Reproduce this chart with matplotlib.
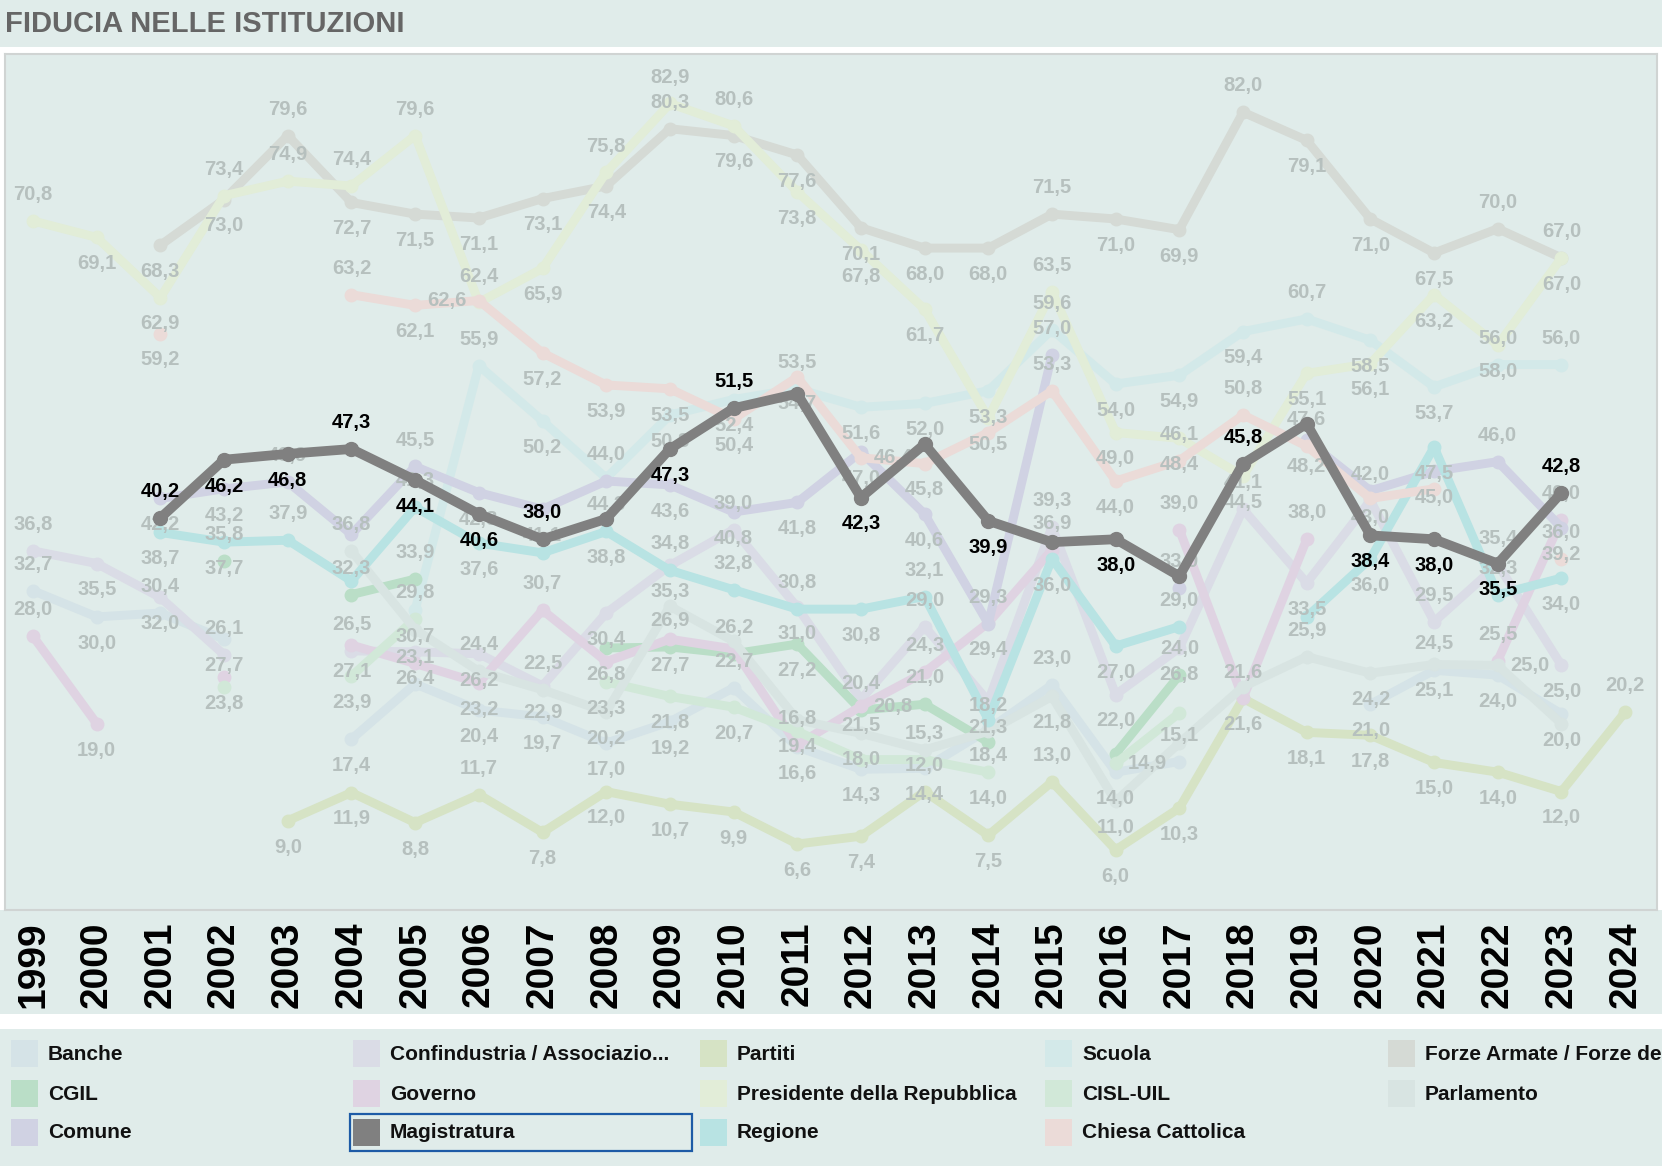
import matplotlib
matplotlib.use("Agg")
import numpy as np
import matplotlib.pyplot as plt
from matplotlib.patches import Rectangle

plt.rcParams['font.family'] = ['Liberation Sans', 'DejaVu Sans']

N = np.nan
years = list(range(1999, 2025))

# fiducia (%) per istituzione
banche = [32.7, 30.0, 30.4, 27.7, N, 17.4, 23.1, 20.4, 19.7, 17.0, 19.2, 22.7, 16.6, 14.3,
          14.4, 18.4, 23.0, 14.0, 15.1, N, N, 21.0, 24.5, 24.0, 20.0, N]
confindustria = [36.8, 35.5, 32.0, 26.1, N, 26.5, 26.4, 26.2, 22.9, 30.4, 35.3, 39.0, 31.0, 21.5,
                 29.0, 21.3, 39.3, 22.0, 26.8, 41.1, 33.5, 42.0, 29.5, 35.4, 25.0, N]
partiti = [N, N, N, N, 9.0, 11.9, 8.8, 11.7, 7.8, 12.0, 10.7, 9.9, 6.6, 7.4,
           12.0, 7.5, 13.0, 6.0, 10.3, 21.6, 18.1, 17.8, 15.0, 14.0, 12.0, 20.2]
scuola = [N, N, N, N, N, N, 30.7, 55.9, 50.2, 44.3, 50.8, 52.4, 53.5, 51.6,
          52.0, 53.3, 59.6, 54.0, 54.9, 59.4, 60.7, 58.5, 53.7, 56.0, 56.0, N]
forze = [N, N, 68.3, 73.0, 79.6, 72.7, 71.5, 71.1, 73.1, 74.4, 80.3, 79.6, 77.6, 70.1,
         68.0, 68.0, 71.5, 71.0, 69.9, 82.0, 79.1, 71.0, 67.5, 70.0, 67.0, N]
cgil = [N, N, N, 35.8, N, 32.3, 33.9, N, N, 26.8, 26.9, 26.2, 27.2, 20.4,
        21.0, 17.1, N, 15.9, 24.0, N, N, N, N, N, N, N]
governo = [28.0, 19.0, N, 23.8, N, 27.1, 25.2, 23.2, 30.7, 25.4, 27.7, 26.7, 16.8, 20.8,
           24.3, 29.4, 36.9, N, 39.0, 21.6, 38.0, N, N, 25.5, 40.0, N]
presidente = [70.8, 69.1, 62.9, 73.4, 74.9, 74.4, 79.6, 62.4, 65.9, 75.8, 82.9, 80.6, 73.8, 67.8,
              61.7, 50.5, 63.5, 49.0, 48.4, 44.5, 55.1, 56.1, 63.2, 58.0, 67.0, N]
cisl_uil = [N, N, N, 22.8, N, 23.9, 29.8, N, N, 23.3, 21.8, 20.7, 18.2, 15.3,
            15.3, 14.0, N, 14.9, 20.1, N, N, N, N, N, N, N]
parlamento = [N, N, N, N, N, 36.8, 28.7, 24.4, 22.5, 20.2, 31.1, 27.5, 19.4, 18.0,
              16.3, 18.2, 21.8, 11.0, 17.0, 22.8, 25.9, 24.2, 25.1, 25.0, 19.0, N]
comune = [N, N, 42.2, 43.2, 43.9, 38.5, 45.5, 42.8, 41.1, 44.0, 43.6, 40.8, 41.8, 47.0,
          40.6, 29.3, 57.0, N, 33.0, N, 48.2, 43.0, 45.0, 46.0, 39.2, N]
magistratura = [N, N, 40.2, 46.2, 46.8, 47.3, 44.1, 40.6, 38.0, 40.1, 47.3, 51.5, 53.0, 42.3,
                47.8, 39.9, 37.7, 38.0, 34.2, 45.8, 49.9, 38.4, 38.0, 35.5, 42.8, N]
regione = [N, N, 38.7, 37.7, 37.9, 33.7, 41.3, 37.6, 36.6, 38.8, 34.8, 32.8, 30.8, 30.8,
           32.1, 19.4, 36.0, 27.0, 29.0, N, 30.0, 36.0, 47.5, 32.3, 34.0, N]
chiesa = [N, N, 59.2, N, N, 63.2, 62.1, 62.6, 57.2, 53.9, 53.5, 50.4, 54.7, 46.4,
          45.8, 49.0, 53.3, 44.0, 46.1, 50.8, 47.6, 42.2, 43.2, N, 36.0, N]

names = ["Banche", "Confindustria / Associazio...", "Partiti", "Scuola",
         "Forze Armate / Forze dell'Ordine", "CGIL", "Governo", "Presidente della Repubblica",
         "CISL-UIL", "Parlamento", "Comune", "Magistratura", "Regione", "Chiesa Cattolica"]
series = [banche, confindustria, partiti, scuola, forze, cgil, governo, presidente,
          cisl_uil, parlamento, comune, magistratura, regione, chiesa]
colors = ["#d5e3e7", "#dadce6", "#d6e3c5", "#d3e9e9", "#d5dad5", "#badec7", "#dfd3e2",
          "#e2edd8", "#d1e8d8", "#d8e4e2", "#d0d2e3", "#808080", "#b8e3e3", "#ebdbd8"]
highlight = "Magistratura"

W, H = 1662, 1166
fig = plt.figure(figsize=(W / 100, H / 100), dpi=100)
fig.patch.set_facecolor("white")
panel = "#e0ecea"


def frect(x0, y0, x1, y1, **kw):
    # rectangle in pixel coordinates measured from the top-left corner
    r = Rectangle((x0 / W, 1 - y1 / H), (x1 - x0) / W, (y1 - y0) / H,
                  transform=fig.transFigure, **kw)
    fig.add_artist(r)
    return r


frect(0, 0, W, 47, facecolor=panel, edgecolor="none", zorder=0)
fig.text(5 / W, 1 - 24 / H, "FIDUCIA NELLE ISTITUZIONI", fontsize=21, fontweight="bold",
         color="#666666", ha="left", va="center")
frect(0, 910, W, 1014, facecolor=panel, edgecolor="none", zorder=0)
frect(0, 1029, W, H, facecolor=panel, edgecolor="none", zorder=0)

ax = fig.add_axes([5 / W, 1 - 910 / H, 1652 / W, 856 / H])
ax.set_facecolor(panel)
for s in ax.spines.values():
    s.set_color("#d0d4d3")
    s.set_linewidth(1.5)
ax.set_xlim(1998.56, 2024.5)
ax.set_ylim(-0.2, 88.0)
ax.set_yticks([])
ax.set_xticks(years)
ax.set_xticklabels([str(y) for y in years], rotation=90, fontsize=28, fontweight="bold",
                   color="black")
ax.tick_params(axis="x", length=0, pad=8)

for name, vals, col in zip(names, series, colors):
    if name == highlight:
        continue
    ax.plot(years, vals, color=col, lw=6.4, marker="o", ms=9, solid_capstyle="round",
            solid_joinstyle="round", zorder=2)
mag = series[names.index(highlight)]
ax.plot(years, mag, color="#808080", lw=7, marker="o", ms=10, solid_capstyle="round",
        solid_joinstyle="round", zorder=5)

# value labels, greedy placement without overlaps
fig.canvas.draw()
renderer = fig.canvas.get_renderer()
axbb = ax.get_window_extent(renderer)
placed = []


def place(x, y, txt, color, prefs, z):
    for dx, dy, ha in prefs:
        t = ax.annotate(txt, (x, y), xytext=(dx, dy), textcoords="offset points", ha=ha,
                        va="center", fontsize=14.5, fontweight="bold", color=color, zorder=z)
        bb = t.get_window_extent(renderer)
        inside = bb.x0 > axbb.x0 and bb.x1 < axbb.x1 and bb.y0 > axbb.y0 and bb.y1 < axbb.y1
        if inside and not any(bb.overlaps(p) for p in placed):
            placed.append(bb)
            return
        t.remove()


above = (0, 19, "center")
below = (0, -19, "center")
right = (9, 0, "left")
left = (-9, 0, "right")
order = [n for n in names if n != highlight] + [highlight]
for name in order:
    vals = series[names.index(name)]
    col = "black" if name == highlight else "#b6c0be"
    z = 7 if name == highlight else 4
    for i, v in enumerate(vals):
        if np.isnan(v):
            continue
        nb = [vals[j] for j in (i - 1, i + 1) if 0 <= j < len(vals) and not np.isnan(vals[j])]
        peak = all(v >= n for n in nb)
        prefs = [above, below, right, left] if peak else [below, above, right, left]
        place(years[i], v, "{:.1f}".format(v).replace(".", ","), col, prefs, z)

# legend
col_x = [11, 353, 700, 1045, 1388]
row_y = [1054, 1094, 1133]
for k, (name, col) in enumerate(zip(names, colors)):
    cx, cy = col_x[k % 5], row_y[k // 5]
    frect(cx, cy - 14, cx + 27, cy + 13, facecolor=col, edgecolor="none", zorder=3)
    fig.text((cx + 37) / W, 1 - cy / H, name, fontsize=15, fontweight="bold",
             color="#111111", ha="left", va="center")
    if name == highlight:
        frect(cx - 3, cy - 19, cx + 339, cy + 18, facecolor="none", edgecolor="#1d5ba6",
              lw=1.6, zorder=4)

fig.savefig("out.png", dpi=100, facecolor=fig.get_facecolor())
